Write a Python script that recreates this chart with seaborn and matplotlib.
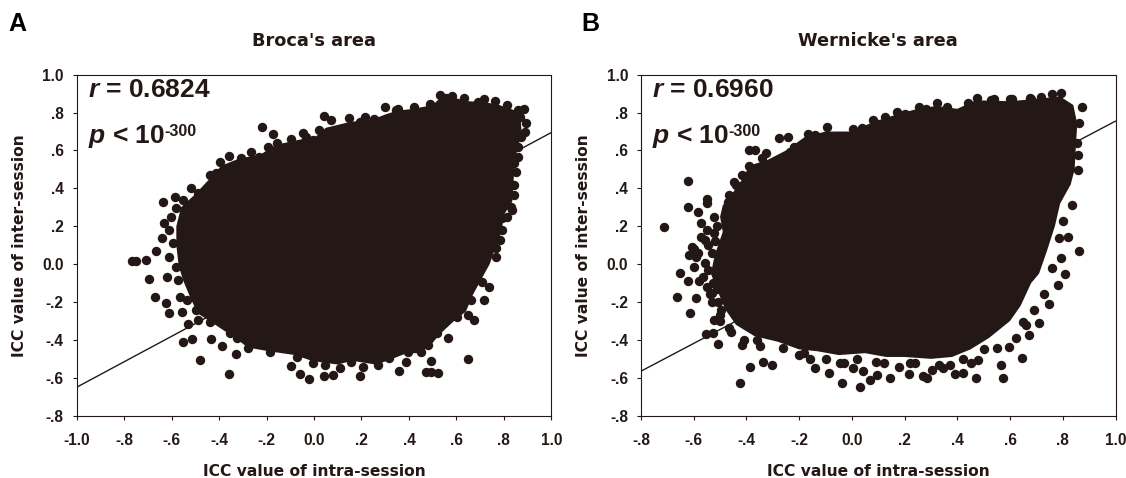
import seaborn as sns
import matplotlib.pyplot as plt

INK = '#231815'

# outer points of the cloud
a_x = [.53,.583,.632,.718,.764,.814,.886,.895,.889,.859,.844,.844,.829,.791,.791,.768,.738,.718,.673,.564,
       .647,.521,.491,.47,.491,.389,.359,.195,.208,.079,.041,-.02,-.058,-.095,-.356,-.329,-.479,-.388,-.433,-.515,
       -.55,-.53,-.611,-.623,-.668,-.694,-.709,-.75,-.765,-.667,-.641,-.633,-.636,-.585,-.55,-.52,-.436,-.395,-.356,-.267,
       -.194,-.22,-.171,-.095,-.047,.021,.044,.147,.215,.298,.352,.423,.488,
       -.603,-.58,-.61,-.595,-.61,-.58,-.618,-.573,-.565,-.535,-.558,-.497,-.489,-.436,-.353,-.323,-.277,-.186,-.073,
       -.005,.048,.109,.155,.268,.314,.397,.45,.48,.518,.602,.647,.662,.708,.768,.783,.814,.836,.844,.852,.859,
       .556,.692,.859,.867,.874,.192,.071,.253,.344,-.005,-.035,-.156,-.232,-.308,-.414,-.429,-.489]
a_y = [.894,.887,.879,.872,.863,.838,.817,.743,.70,.62,.532,.365,.303,.242,.18,.083,-.119,-.19,-.295,-.388,
       -.499,-.577,-.568,-.568,-.51,-.515,-.563,-.589,-.541,-.585,-.59,-.605,-.58,-.536,-.578,-.475,-.506,-.432,-.395,-.394,
       -.411,-.316,-.26,-.204,-.175,-.08,.022,.015,.015,.071,.14,.215,.326,.352,.338,.40,.47,.537,.571,.594,
       .62,.725,.687,.66,.69,.708,.784,.77,.775,.831,.817,.828,.845,
       .25,.294,.18,.11,.04,-.014,-.066,-.084,-.172,-.19,-.251,-.242,-.295,-.304,-.365,-.392,-.445,-.462,-.489,
       -.524,-.533,-.55,-.515,-.533,-.497,-.462,-.462,-.427,-.365,-.277,-.269,-.19,-.093,.039,.127,.25,.286,.418,.488,.567,
       .875,.857,.813,.778,.673,.752,.761,.764,.813,.655,.673,.637,.567,.558,.479,.426,.374]
# solid middle of the cloud, panel A
a_core_x = [.5,.53,.6,.65,.72,.78,.85,.87,.875,.86,.845,.84,.835,.80,.79,.765,.74,.705,.67,.64,
            .59,.53,.49,.44,.39,.31,.26,.16,.1,.04,-.01,-.08,-.19,-.28,-.33,-.38,-.44,-.49,-.52,-.55,
            -.57,-.58,-.58,-.56,-.50,-.44,-.39,-.31,-.23,-.16,-.05,.0,.05,.15,.25,.3,.35,.42]
a_core_y = [.84,.875,.875,.86,.855,.84,.81,.78,.69,.62,.54,.42,.33,.26,.17,.09,.0,-.08,-.16,-.25,
            -.3,-.37,-.43,-.47,-.47,-.51,-.53,-.51,-.53,-.52,-.51,-.48,-.46,-.44,-.39,-.35,-.3,-.26,-.18,-.09,
            -.01,.1,.2,.3,.37,.45,.52,.56,.575,.63,.66,.665,.72,.75,.765,.79,.81,.82]

# outer points of the cloud, panel B
b_x = [-.711,-.623,-.623,-.582,-.55,-.55,-.664,-.591,-.614,-.621,-.653,-.509,-.554,-.526,-.418,-.423,-.387,-.336,-.302,-.086,
       -.036,.03,.067,.095,.006,.043,.146,.217,.268,.285,.303,.391,.423,.47,.574,.566,.646,.48,.45,.671,
       .709,.746,.78,.81,.794,.862,.818,.787,.835,.801,.859,.858,.855,.872,.862,.794,.76,.719,.674,.607,
       .528,.473,.323,.255,.173,.125,.08,.005,-.096,-.168,-.243,-.277,-.236,-.325,-.389,-.366,-.392,-.418,-.448,-.468,
       -.523,-.571,-.571,-.618,-.605,-.523,-.468,-.359,-.182,-.141,-.045,.091,.18,.221,.344,.371,.596,.623,.651,
       -.55,-.557,-.53,-.591,-.557,-.564,-.55,-.53,-.509,-.496,-.523,-.509,-.598,
       -.58,-.54,-.5,-.46,-.41,-.35,-.26,-.2,-.16,-.1,-.03,.02,.12,.24,.33,.42,.5,.55,.66,.69,.73,.76,
       -.47,-.44,-.38,-.34,-.22,-.14,.04,.1,.2,.28,.36,.44,.54,.6,.68,
       -.545,-.52,-.51,-.6,-.585,-.545,-.525,-.51,-.53,-.5]
b_y = [.196,.437,.30,.277,.344,.321,-.175,-.181,-.256,-.087,-.045,-.422,-.369,-.365,-.429,-.63,-.545,-.519,-.534,-.577,
       -.63,-.651,-.612,-.585,-.547,-.564,-.6,-.58,-.591,-.603,-.559,-.582,-.573,-.603,-.603,-.533,-.494,-.506,-.524,-.374,
       -.313,-.211,-.11,-.052,.03,.069,.145,.136,.312,.228,.497,.576,.637,.828,.743,.901,.898,.884,.875,.87,
       .866,.875,.849,.828,.805,.778,.761,.711,.722,.687,.669,.664,.594,.585,.602,.602,.52,.47,.435,.365,
       .25,.215,.145,.048,.092,-.295,-.339,-.4,-.471,-.55,-.524,-.515,-.541,-.524,-.547,-.533,-.436,-.392,-.304,
       .18,.127,.057,.039,.004,-.066,-.119,-.154,-.198,-.242,.162,-.014,-.014,
       -.09,-.16,-.3,-.36,-.4,-.43,-.44,-.48,-.5,-.5,-.52,-.5,-.52,-.52,-.53,-.5,-.45,-.44,-.32,-.24,-.16,-.02,
       .33,.42,.47,.56,.62,.68,.72,.74,.79,.82,.83,.85,.87,.87,.87,
       .1,.12,.2,.08,.06,-.03,-.1,-.13,-.2,-.27]
b_core_x = [.47,.6,.72,.79,.84,.855,.85,.845,.83,.79,.77,.74,.71,.68,.64,.6,.52,.45,.38,.3,
            .2,.13,.05,-.05,-.13,-.2,-.28,-.37,-.44,-.48,-.51,-.535,-.52,-.49,-.5,-.49,-.45,-.41,-.39,-.32,
            -.25,-.18,-.1,.0,.08,.17,.25,.32,.4]
b_core_y = [.865,.86,.875,.885,.84,.74,.63,.5,.42,.32,.2,.07,-.05,-.1,-.22,-.3,-.39,-.45,-.49,-.5,
            -.49,-.49,-.47,-.48,-.46,-.45,-.41,-.38,-.32,-.24,-.14,-.05,.05,.17,.25,.31,.38,.46,.52,.55,
            .6,.67,.7,.7,.75,.79,.82,.835,.82]

# fitted lines, ends at the plot edges
a_line_x = [-1.0, 1.0]
a_line_y = [-.65, .695]
b_line_x = [-.8, 1.0]
b_line_y = [-.565, .755]

a_xticks = [-1.0,-.8,-.6,-.4,-.2,0.0,.2,.4,.6,.8,1.0]
a_xlabels = ['-1.0','-.8','-.6','-.4','-.2','0.0','.2','.4','.6','.8','1.0']
b_xticks = [-.8,-.6,-.4,-.2,0.0,.2,.4,.6,.8,1.0]
b_xlabels = ['-.8','-.6','-.4','-.2','0.0','.2','.4','.6','.8','1.0']
yticks = [-.8,-.6,-.4,-.2,0.0,.2,.4,.6,.8,1.0]
ylabels = ['-.8','-.6','-.4','-.2','0.0','.2','.4','.6','.8','1.0']

sns.set_style('ticks')
plt.rcParams['font.family'] = ['Liberation Sans', 'DejaVu Sans']
plt.rcParams['mathtext.fontset'] = 'custom'
plt.rcParams['mathtext.it'] = 'Liberation Sans:italic:bold'
plt.rcParams['mathtext.bf'] = 'Liberation Sans:bold'
plt.rcParams['mathtext.rm'] = 'Liberation Sans:bold'

W, H = 1126, 478
fig = plt.figure(figsize=(W/100, H/100), dpi=100)


def panel(rect, xs, ys, core_x, core_y, line_x, line_y, xticks, xlabels, title, r_txt, letter, letter_x):
    ax = fig.add_axes([rect[0]/W, 1-rect[3]/H, (rect[2]-rect[0])/W, (rect[3]-rect[1])/H])
    sns.lineplot(x=line_x, y=line_y, color=INK, linewidth=1, ax=ax, zorder=1, errorbar=None, sort=False)
    ax.fill(core_x, core_y, color=INK, linewidth=0, zorder=2)
    sns.scatterplot(x=xs, y=ys, s=46, color=INK, linewidth=0, ax=ax, zorder=3, clip_on=False)
    ax.set_xlim(xticks[0], 1.0)
    ax.set_ylim(-.8, 1.0)
    ax.set_xticks(xticks, xlabels)
    ax.set_yticks(yticks, ylabels)
    ax.tick_params(length=3.2, width=0.8, color=INK, labelcolor=INK, labelsize=11.2)
    ax.tick_params(axis='x', pad=9)
    ax.tick_params(axis='y', pad=6)
    for lab in ax.get_xticklabels() + ax.get_yticklabels():
        lab.set_fontweight('bold')
    for s in ax.spines.values():
        s.set_linewidth(0.8)
        s.set_color(INK)
    cx = (rect[0]+rect[2])/2/W
    wide = ['DejaVu Sans']
    fig.text(cx, 1-41/H, title, ha='center', va='center', fontsize=12.8, fontweight='bold', color=INK, family=wide)
    fig.text(cx, 1-471/H, 'ICC value of intra-session', ha='center', va='center', fontsize=11.2, fontweight='bold', color=INK, family=wide)
    fig.text((rect[0]-57)/W, 1-(rect[1]+rect[3])/2/H, 'ICC value of inter-session', ha='center', va='center',
             rotation=90, fontsize=11.2, fontweight='bold', color=INK, family=wide)
    fig.text((rect[0]+11)/W, 1-90/H, '$\\mathit{r}$ = ' + r_txt, ha='left', va='center', fontsize=19, fontweight='bold', color=INK)
    fig.text((rect[0]+11)/W, 1-137/H, '$\\mathit{p}$ < 10', ha='left', va='center', fontsize=19, fontweight='bold', color=INK)
    fig.text((rect[0]+87.5)/W, 1-131/H, '-300', ha='left', va='center', fontsize=11.5, fontweight='bold', color=INK)
    fig.text(letter_x/W, 1-24/H, letter, ha='left', va='center', fontsize=18, fontweight='bold', color='black')


panel((76.6, 74.7, 551.4, 415.7), a_x, a_y, a_core_x, a_core_y, a_line_x, a_line_y, a_xticks, a_xlabels,
      "Broca's area", '0.6824', 'A', 8)
panel((641, 74.7, 1115.5, 415.7), b_x, b_y, b_core_x, b_core_y, b_line_x, b_line_y, b_xticks, b_xlabels,
      "Wernicke's area", '0.6960', 'B', 581)

plt.savefig('out.png', dpi=100)
